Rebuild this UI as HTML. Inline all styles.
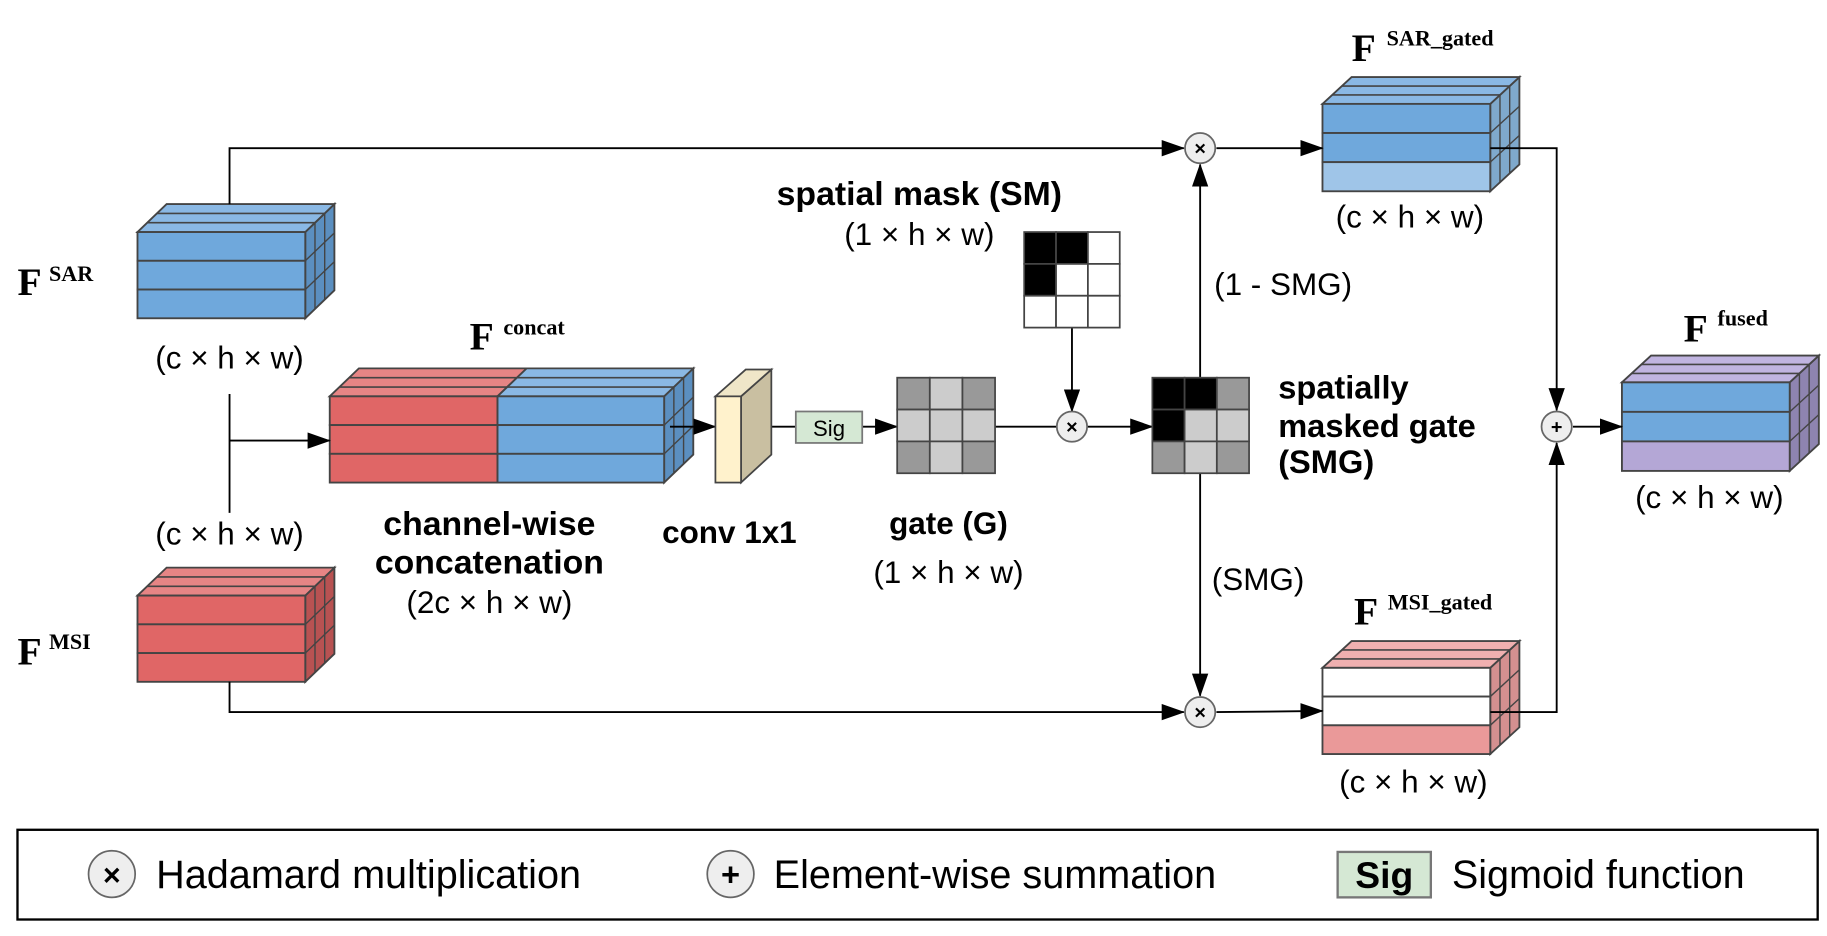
<!DOCTYPE html>
<html><head><meta charset="utf-8"><style>
html,body{margin:0;padding:0;background:#fff;}
svg{display:block;}
text{font-family:"Liberation Sans",sans-serif;fill:#000;}
.b{font-weight:bold;}
.s{font-family:"Liberation Serif",serif;font-weight:bold;}
</style></head><body>
<svg id="s" width="1827" height="936" viewBox="0 0 1568 803" xmlns="http://www.w3.org/2000/svg">
<defs>
<marker id="ar2" markerWidth="20" markerHeight="14" refX="19" refY="7" orient="auto" markerUnits="userSpaceOnUse"><path d="M0,0 L20,7 L0,14 z" fill="#000"/></marker>
</defs>
<g id="cubes"></g>
<g fill="none" stroke="#000" stroke-width="1.6">
<polyline points="197,175 197,127 1016,127" marker-end="url(#ar2)"/>
<line x1="197" y1="338" x2="197" y2="440"/>
<line x1="197" y1="378" x2="283" y2="378" marker-end="url(#ar2)"/>
<polyline points="197,585 197,611 1016,611" marker-end="url(#ar2)"/>
<line x1="575" y1="366" x2="614" y2="366" marker-end="url(#ar2)"/>
<line x1="652" y1="366" x2="683" y2="366"/>
<line x1="740" y1="366" x2="770" y2="366" marker-end="url(#ar2)"/>
<line x1="854" y1="366" x2="907" y2="366"/>
<line x1="933" y1="366" x2="989" y2="366" marker-end="url(#ar2)"/>
<line x1="920" y1="281" x2="920" y2="353" marker-end="url(#ar2)"/>
<line x1="1030" y1="324" x2="1030" y2="141" marker-end="url(#ar2)"/>
<line x1="1030" y1="406" x2="1030" y2="597" marker-end="url(#ar2)"/>
<line x1="1044" y1="127" x2="1135" y2="127" marker-end="url(#ar2)"/>
<line x1="1044" y1="611" x2="1135" y2="610" marker-end="url(#ar2)"/>
<polyline points="1279,127 1336,127 1336,352" marker-end="url(#ar2)"/>
<polyline points="1279,611 1336,611 1336,380" marker-end="url(#ar2)"/>
<line x1="1350" y1="366" x2="1392" y2="366" marker-end="url(#ar2)"/>
</g>
<polygon points="636,340 662,317 662,390 636,414" fill="#c9bfa1" stroke="#444" stroke-width="1.5"/>
<polygon points="614,340 636,340 662,317 640,317" fill="#efe6c8" stroke="#444" stroke-width="1.5"/>
<rect x="614" y="340" width="22" height="74" fill="#fff2cc" stroke="#444" stroke-width="1.5"/>
<rect x="683" y="353" width="57" height="27" fill="#d5e8d4" stroke="#777" stroke-width="1.5"/>
<text x="711.5" y="374" font-size="19" text-anchor="middle">Sig</text>
<g id="grids" stroke="#444" stroke-width="1.5"></g>
<g fill="#eee" stroke="#666" stroke-width="1.5">
<circle cx="1030" cy="127" r="13"/><circle cx="920" cy="366" r="13"/><circle cx="1030" cy="611" r="13"/><circle cx="1336" cy="366" r="13"/>
</g>
<g font-size="17" class="b" text-anchor="middle">
<text x="1030" y="133" class="b">×</text><text x="920" y="372" class="b">×</text><text x="1030" y="617" class="b">×</text><text x="1336" y="372" class="b">+</text>
</g>
<text x="15" y="253" class="s" font-size="34">F</text><text x="42" y="241" class="s" font-size="19">SAR</text>
<text x="15" y="570" class="s" font-size="34">F</text><text x="42" y="557" class="s" font-size="19">MSI</text>
<text x="403" y="300" class="s" font-size="34">F</text><text x="432" y="287" class="s" font-size="19">concat</text>
<text x="1160" y="52" class="s" font-size="34">F</text><text x="1190" y="39" class="s" font-size="19">SAR_gated</text>
<text x="1162" y="536" class="s" font-size="34">F</text><text x="1191" y="523" class="s" font-size="19">MSI_gated</text>
<text x="1445" y="293" class="s" font-size="34">F</text><text x="1474" y="279" class="s" font-size="19">fused</text>
<g font-size="27" text-anchor="middle">
<text x="197" y="316">(c × h × w)</text>
<text x="197" y="467">(c × h × w)</text>
<text x="420" y="526">(2c × h × w)</text>
<text x="789" y="210">(1 × h × w)</text>
<text x="814" y="500">(1 × h × w)</text>
<text x="1210" y="195">(c × h × w)</text>
<text x="1213" y="680">(c × h × w)</text>
<text x="1467" y="436">(c × h × w)</text>
</g>
<g font-size="29" class="b" text-anchor="middle">
<text x="420" y="459">channel-wise</text>
<text x="420" y="492">concatenation</text>
<text x="626" y="466" font-size="27">conv 1x1</text>
<text x="814" y="458" font-size="27">gate (G)</text>
<text x="789" y="176">spatial mask (SM)</text>
</g>
<text x="1042" y="253" font-size="27">(1 - SMG)</text>
<text x="1040" y="506" font-size="27">(SMG)</text>
<g font-size="28" class="b">
<text x="1097" y="342">spatially</text>
<text x="1097" y="375">masked gate</text>
<text x="1097" y="406">(SMG)</text>
</g>
<rect x="15" y="712" width="1545" height="77" fill="none" stroke="#000" stroke-width="2"/>
<circle cx="96" cy="750" r="20" fill="#eee" stroke="#666" stroke-width="1.5"/>
<text x="96" y="760" font-size="26" class="b" text-anchor="middle">×</text>
<text x="134" y="762" font-size="34">Hadamard multiplication</text>
<circle cx="627" cy="750" r="20" fill="#eee" stroke="#666" stroke-width="1.5"/>
<text x="627" y="760" font-size="28" class="b" text-anchor="middle">+</text>
<text x="664" y="762" font-size="34">Element-wise summation</text>
<rect x="1148" y="731" width="80" height="39" fill="#d5e8d4" stroke="#777" stroke-width="2"/>
<text x="1188" y="762" font-size="32" class="b" text-anchor="middle">Sig</text>
<text x="1246" y="762" font-size="34">Sigmoid function</text>
</svg>
<script>
var NS="http://www.w3.org/2000/svg";
function el(p,t,a){var e=document.createElementNS(NS,t);for(var k in a)e.setAttribute(k,a[k]);p.appendChild(e);return e;}
var C=document.getElementById("cubes");
function cube(x0,y0,w,h,dx,dy,layers,top,side){
 var st={stroke:"#444","stroke-width":1.6};
 function P(pts,f){var a={points:pts.map(function(p){return p.join(",")}).join(" "),fill:f};for(var k in st)a[k]=st[k];el(C,"polygon",a);}
 P([[x0+w,y0],[x0+w+dx,y0+dy],[x0+w+dx,y0+h+dy],[x0+w,y0+h]],side);
 for(var i=1;i<3;i++){var t=i/3;el(C,"line",{x1:x0+w+dx*t,y1:y0+dy*t,x2:x0+w+dx*t,y2:y0+h+dy*t,stroke:"#444","stroke-width":1.2});
  el(C,"line",{x1:x0+w,y1:y0+h*t,x2:x0+w+dx,y2:y0+h*t+dy,stroke:"#444","stroke-width":1.2});}
 if(top.length===1){P([[x0,y0],[x0+dx,y0+dy],[x0+w+dx,y0+dy],[x0+w,y0]],top[0]);}
 else{for(var j=0;j<top.length;j++){var seg=top[j];P([[seg[0],y0],[seg[0]+dx,y0+dy],[seg[1]+dx,y0+dy],[seg[1],y0]],seg[2]);}}
 for(var i=1;i<3;i++){var t=i/3;el(C,"line",{x1:x0+dx*t,y1:y0+dy*t,x2:x0+w+dx*t,y2:y0+dy*t,stroke:"#444","stroke-width":1.4});}
 var lh=h/layers.length;
 for(var i=0;i<layers.length;i++){var L=layers[i];
  if(typeof L==="string"){el(C,"rect",{x:x0,y:y0+i*lh,width:w,height:lh,fill:L,stroke:"#444","stroke-width":1.6});}
  else{for(var j=0;j<L.length;j++){el(C,"rect",{x:L[j][0],y:y0+i*lh,width:L[j][1]-L[j][0],height:lh,fill:L[j][2],stroke:"#444","stroke-width":1.6});}}}
}
var B="#6fa8dc",BT="#8ab8e4",BS="#5b8fc0",R="#e06666",RT="#e68585",RS="#b85252";
cube(118,199,144,74,25,-24,[B,B,B],[BT],BS);
cube(118,511,144,74,25,-24,[R,R,R],[RT],RS);
var cc=[[283,427,R],[427,570,B]];
cube(283,340,287,74,25,-24,[cc,cc,cc],[[283,427,RT],[427,570,BT]],BS);
cube(1135,89,144,75,25,-23,[B,B,"#9fc5e8"],[BT],"#7fa9cc");
cube(1135,573,144,74,25,-23,["#fff","#fff","#ea9999"],["#f0b0b0"],"#d49090");
cube(1392,328,144,76,25,-23,[B,B,"#b4a7d6"],["#c0b4e0"],"#8e84b0");
var G=document.getElementById("grids");
function grid(x,y,w,h,cols){var cw=w/3,ch=h/3;for(var r=0;r<3;r++)for(var c=0;c<3;c++)el(G,"rect",{x:x+c*cw,y:y+r*ch,width:cw,height:ch,fill:cols[r][c]});}
var D="#999",L="#ccc",K="#000",W="#fff";
grid(770,324,84,82,[[D,L,D],[L,L,L],[D,L,D]]);
grid(879,199,82,82,[[K,K,W],[K,W,W],[W,W,W]]);
grid(989,324,83,82,[[K,K,D],[K,L,L],[D,L,D]]);
</script>
</body></html>
